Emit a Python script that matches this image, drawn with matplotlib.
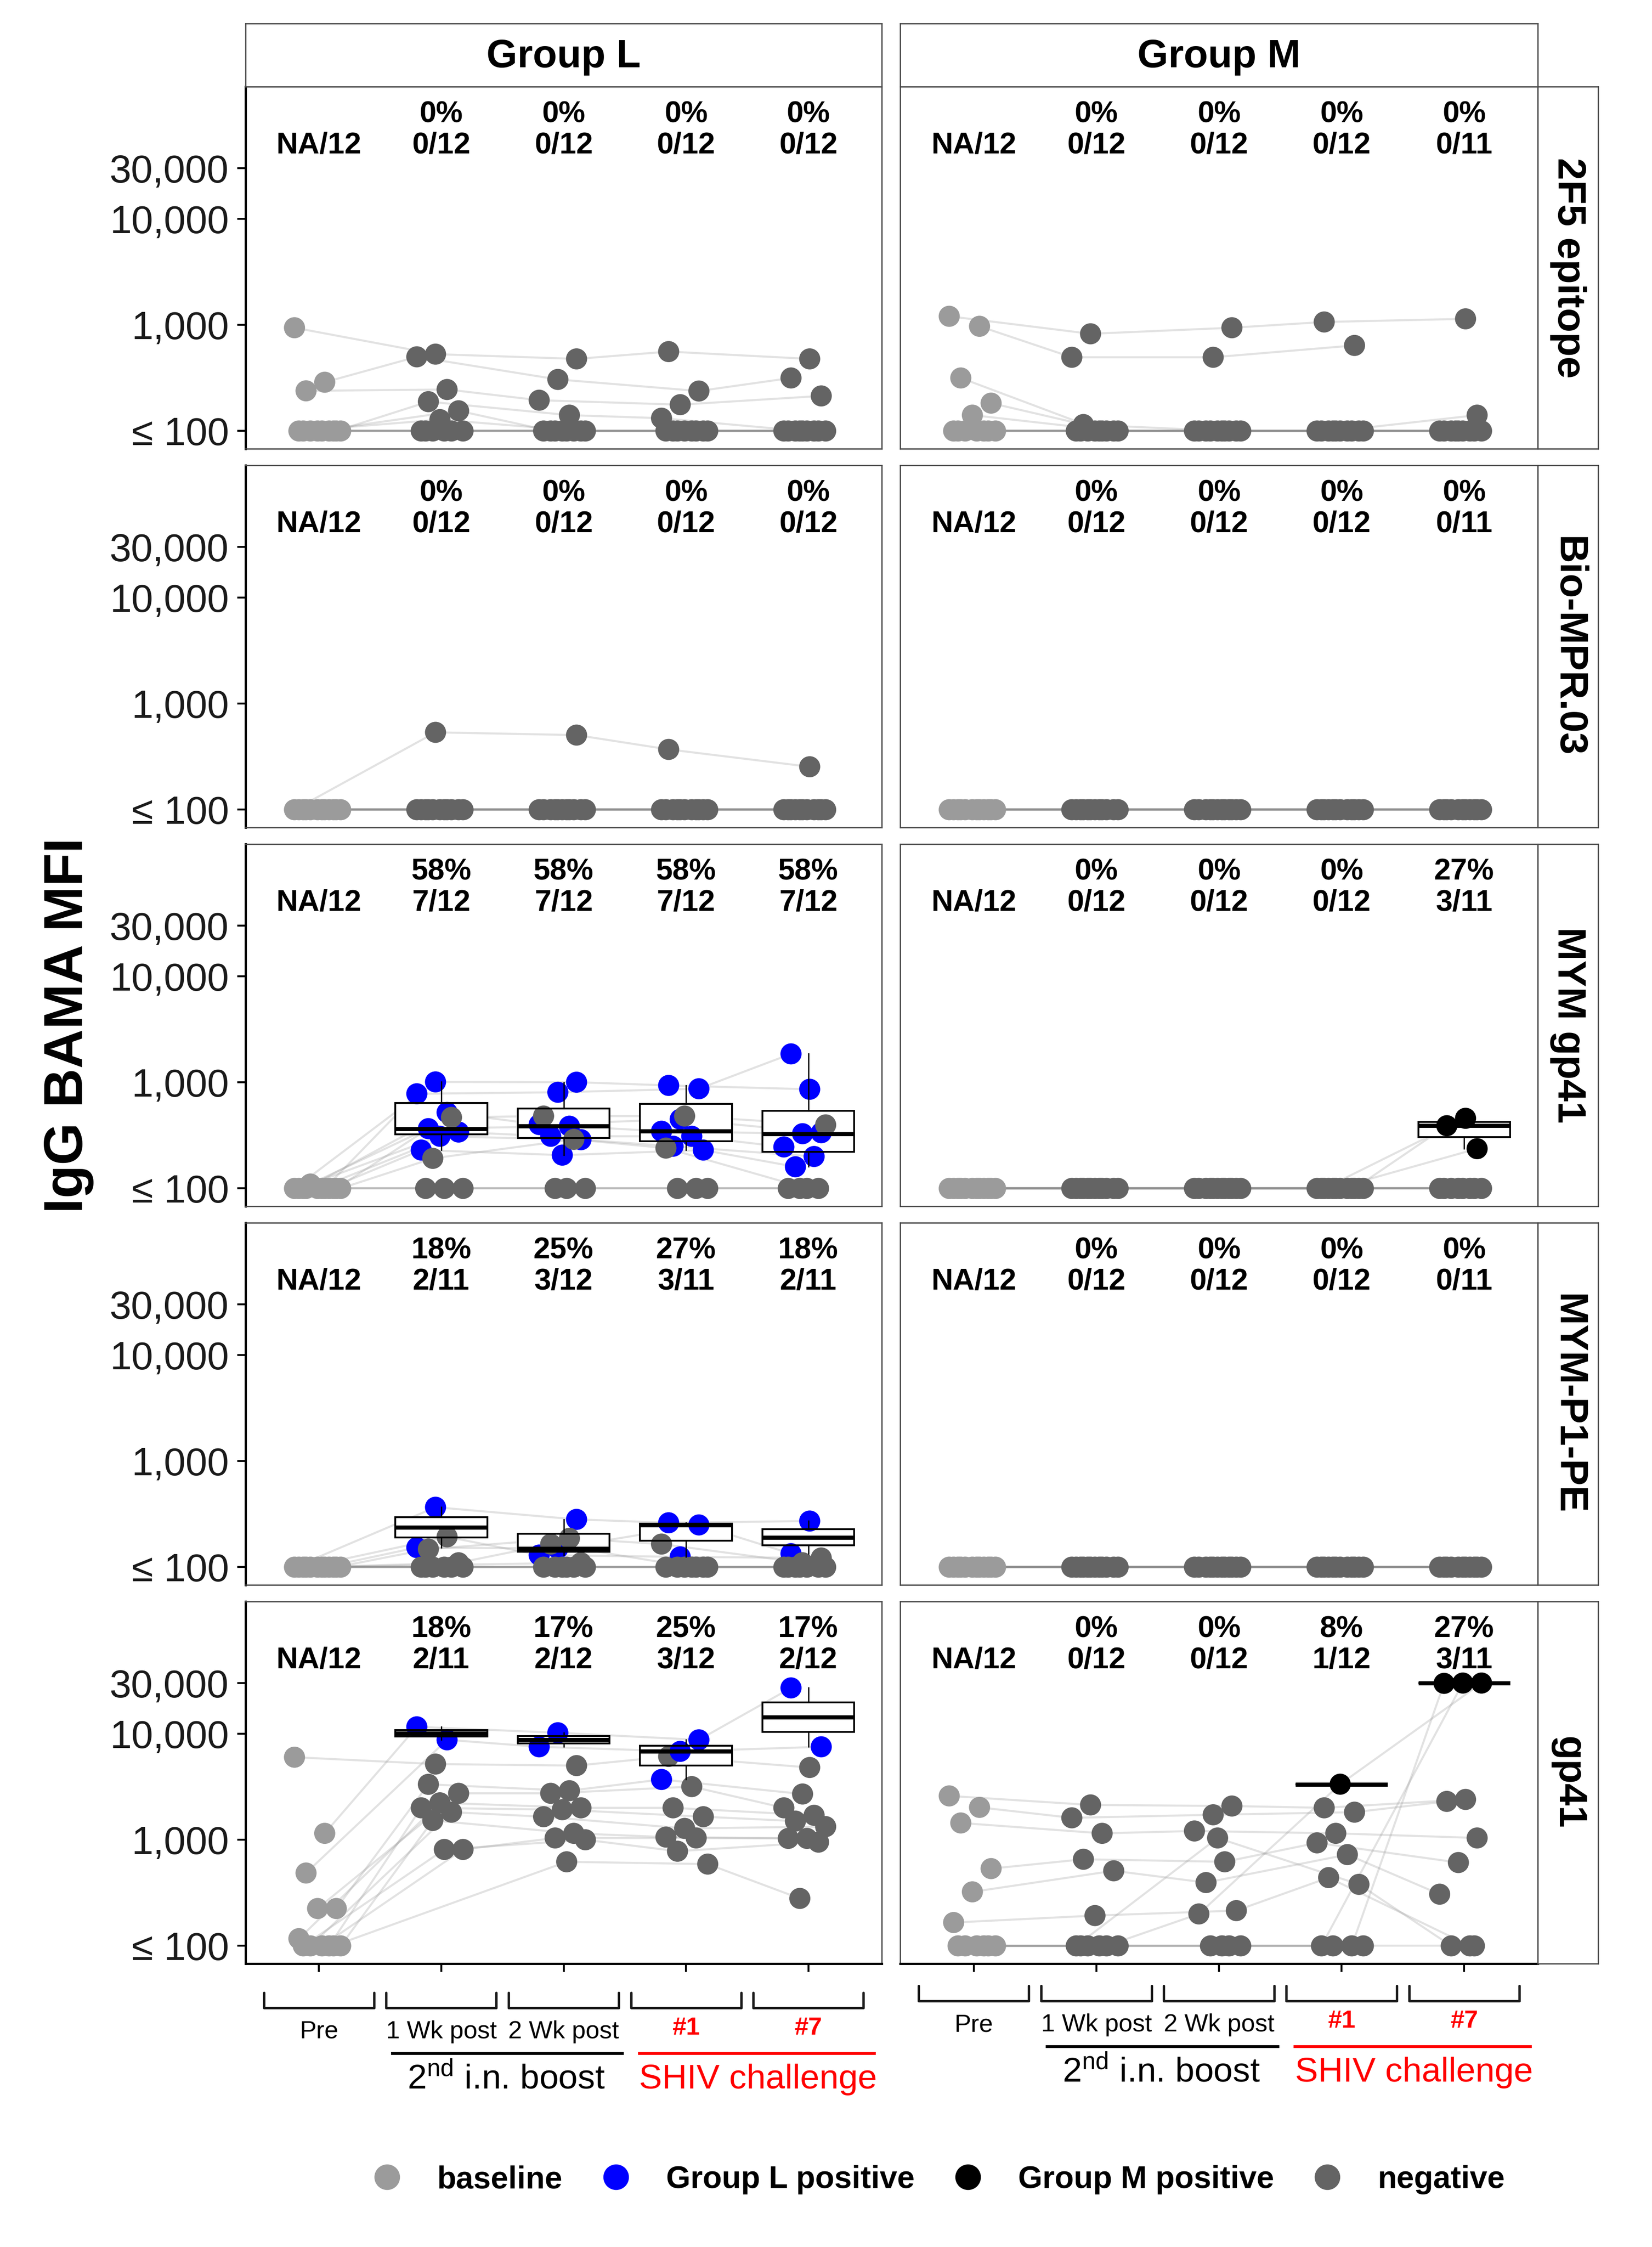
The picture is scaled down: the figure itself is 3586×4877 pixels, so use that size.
import numpy as np
import matplotlib
matplotlib.use("Agg")
import matplotlib.pyplot as plt
from matplotlib import cbook
from matplotlib.lines import Line2D
from matplotlib.ticker import NullLocator, FixedLocator
from matplotlib.transforms import blended_transform_factory

plt.rcParams['font.family'] = ['Liberation Sans', 'DejaVu Sans']
plt.rcParams['mathtext.fontset'] = 'custom'
plt.rcParams['mathtext.rm'] = 'Liberation Sans'
plt.rcParams['mathtext.it'] = 'Liberation Sans:italic'
plt.rcParams['mathtext.bf'] = 'Liberation Sans:bold'

nan = np.nan

# ---------------- data ----------------
timepoints = ["Pre", "1 Wk post", "2 Wk post", "#1", "#7"]
timepoint_colors = ["black", "black", "black", "red", "red"]
groups = ["Group L", "Group M"]
antigens = ["2F5 epitope", "Bio-MPR.03", "MYM gp41", "MYM-P1-PE", "gp41"]
y_ticks = [100, 1000, 10000, 30000]
y_tick_labels = ["\u2264 100", "1,000", "10,000", "30,000"]
phases = ["2$^{\\mathregular{nd}}$ i.n. boost", "SHIV challenge"]
phase_colors = ["black", "red"]
legend_labels = ["baseline", "Group L positive", "Group M positive", "negative"]

# IgG BAMA MFI per animal (rows) and time point (columns: Pre, 1Wk, 2Wk, #1, #7)
mfi_2f5_L = [
    [940, 530, 478, 560, 478],
    [288, 500, 306, 238, 316],
    [239, 246, 195, 177, 214],
    [100, 189, 141, 132, 100],
    [100, 155, 100, 100, 100],
    [100, 128, 100, 100, 100],
    [100, 100, 100, 100, 100],
    [100, 100, 100, 100, 100],
    [100, 100, 100, 100, 100],
    [100, 100, 100, 100, 100],
    [100, 100, 100, 100, 100],
    [100, 100, 100, 100, 100],
]
mfi_2f5_M = [
    [1205, 824, 940, 1065, 1140],
    [970, 495, 495, 640, nan],
    [316, 100, 100, 100, 141],
    [183, 115, 100, 100, 100],
    [141, 100, 100, 100, 100],
    [100, 100, 100, 100, 100],
    [100, 100, 100, 100, 100],
    [100, 100, 100, 100, 100],
    [100, 100, 100, 100, 100],
    [100, 100, 100, 100, 100],
    [100, 100, 100, 100, 100],
    [100, 100, 100, 100, 100],
]
mfi_mpr_L = [
    [100, 536, 505, 370, 254],
    [100, 100, 100, 100, 100],
    [100, 100, 100, 100, 100],
    [100, 100, 100, 100, 100],
    [100, 100, 100, 100, 100],
    [100, 100, 100, 100, 100],
    [100, 100, 100, 100, 100],
    [100, 100, 100, 100, 100],
    [100, 100, 100, 100, 100],
    [100, 100, 100, 100, 100],
    [100, 100, 100, 100, 100],
    [100, 100, 100, 100, 100],
]
mfi_mpr_M = [
    [100, 100, 100, 100, 100],
    [100, 100, 100, 100, 100],
    [100, 100, 100, 100, 100],
    [100, 100, 100, 100, 100],
    [100, 100, 100, 100, 100],
    [100, 100, 100, 100, 100],
    [100, 100, 100, 100, 100],
    [100, 100, 100, 100, 100],
    [100, 100, 100, 100, 100],
    [100, 100, 100, 100, 100],
    [100, 100, 100, 100, 100],
    [100, 100, 100, 100, nan],
]
mfi_mymgp41_L = [
    [100, 1009, 1003, 935, 860],
    [100, 780, 806, 870, 1854],
    [100, 520, 400, 449, 335],
    [100, 366, 386, 346, 328],
    [100, 340, 310, 310, 246],
    [100, 310, 288, 250, 200],
    [100, 230, 206, 230, 160],
    [110, 467, 481, 481, 397],
    [100, 192, 290, 240, 100],
    [100, 100, 100, 100, 100],
    [100, 100, 100, 100, 100],
    [100, 100, 100, 100, 100],
]
pos_mymgp41_L = ["01111", "01111", "01111", "01111", "01111", "01111",
                 "01111", "00000", "00000", "00000", "00000", "00000"]
mfi_mymgp41_M = [
    [100, 100, 100, 100, 458],
    [100, 100, 100, 100, 390],
    [100, 100, 100, 100, 237],
    [100, 100, 100, 100, 100],
    [100, 100, 100, 100, 100],
    [100, 100, 100, 100, 100],
    [100, 100, 100, 100, 100],
    [100, 100, 100, 100, 100],
    [100, 100, 100, 100, 100],
    [100, 100, 100, 100, 100],
    [100, 100, 100, 100, 100],
    [100, 100, 100, 100, nan],
]
pos_mymgp41_M = ["00001", "00001", "00001", "00000", "00000", "00000",
                 "00000", "00000", "00000", "00000", "00000", "00000"]
mfi_p1pe_L = [
    [100, 367, 282, 262, 272],
    [100, 153, 150, 250, 134],
    [100, 193, 130, 125, 122],
    [100, 148, 187, 165, 110],
    [100, 110, 165, 100, 100],
    [100, nan, 110, nan, nan],
    [100, 100, 100, 100, 100],
    [100, 100, 100, 100, 100],
    [100, 100, 100, 100, 100],
    [100, 100, 100, 100, 100],
    [100, 100, 100, 100, 100],
    [100, 100, 100, 100, 100],
]
pos_p1pe_L = ["01111", "01111", "00110", "00000", "00000", "00000",
              "00000", "00000", "00000", "00000", "00000", "00000"]
mfi_p1pe_M = [
    [100, 100, 100, 100, 100],
    [100, 100, 100, 100, 100],
    [100, 100, 100, 100, 100],
    [100, 100, 100, 100, 100],
    [100, 100, 100, 100, 100],
    [100, 100, 100, 100, 100],
    [100, 100, 100, 100, 100],
    [100, 100, 100, 100, 100],
    [100, 100, 100, 100, 100],
    [100, 100, 100, 100, 100],
    [100, 100, 100, 100, 100],
    [100, 100, 100, 100, nan],
]
mfi_gp41_L = [
    [6000, 5170, 5000, 6100, 4800],
    [1150, 11600, 10200, 8750, 27000],
    [486, 8750, 7520, 6810, 7520],
    [225, 3330, 2900, 3700, 2700],
    [225, 2740, 2740, 3170, 2000],
    [117, 2230, 2000, 2000, 1700],
    [100, 2000, 1920, 1650, 1500],
    [100, 1820, 1650, 1280, 1330],
    [100, 1520, 1150, 1060, 1030],
    [100, 810, 1040, 1040, 1030],
    [100, 810, 1000, 780, 950],
    [100, nan, 620, 590, 280],
]
pos_gp41_L = ["00000", "01111", "01111", "00010", "00000", "00000",
              "00000", "00000", "00000", "00000", "00000", "00000"]
mfi_gp41_M = [
    [2590, 2130, 2080, 2000, 2400],
    [2020, 1610, 1720, 1820, 2300],
    [1440, 1150, 1210, 1150, 1040],
    [535, 655, 620, 935, 610],
    [323, 510, 395, 725, 307],
    [166, 193, 215, 440, 100],
    [100, 100, 1040, 380, 100],
    [100, 100, 200, 3340, 30000],
    [100, 100, 100, 100, 30000],
    [100, 100, 100, 100, 29800],
    [100, 100, 100, 100, 100],
    [100, 100, 100, 100, nan],
]
pos_gp41_M = ["00000", "00000", "00000", "00000", "00000", "00000",
              "00000", "00011", "00001", "00001", "00000", "00000"]

panel_values = {
    ("2F5 epitope", "Group L"): mfi_2f5_L, ("2F5 epitope", "Group M"): mfi_2f5_M,
    ("Bio-MPR.03", "Group L"): mfi_mpr_L, ("Bio-MPR.03", "Group M"): mfi_mpr_M,
    ("MYM gp41", "Group L"): mfi_mymgp41_L, ("MYM gp41", "Group M"): mfi_mymgp41_M,
    ("MYM-P1-PE", "Group L"): mfi_p1pe_L, ("MYM-P1-PE", "Group M"): mfi_p1pe_M,
    ("gp41", "Group L"): mfi_gp41_L, ("gp41", "Group M"): mfi_gp41_M,
}
panel_pos = {
    ("MYM gp41", "Group L"): pos_mymgp41_L, ("MYM gp41", "Group M"): pos_mymgp41_M,
    ("MYM-P1-PE", "Group L"): pos_p1pe_L,
    ("gp41", "Group L"): pos_gp41_L, ("gp41", "Group M"): pos_gp41_M,
}

# ---------------- style ----------------
C_BASE = "#9b9b9b"
C_NEG = "#646464"
C_POS = {"Group L": "#0000ff", "Group M": "#000000"}
C_LINE = "#8c8c8c"
C_BORDER = "#4a4a4a"

W, H = 3586, 4877
fig = plt.figure(figsize=(W / 100, H / 100), dpi=100)
fig.patch.set_facecolor("white")


def fx(px):
    return px / W


def fy(py):
    return 1 - py / H


col_x = [(533, 1914), (1954, 3338)]
row_top0, row_pitch, row_h = 188, 822, 786
strip_top = 51
rstrip_x = (3338, 3469)

bottom_axes = []
for r, antigen in enumerate(antigens):
    top = row_top0 + r * row_pitch
    for c, group in enumerate(groups):
        x0, x1 = col_x[c]
        ax = fig.add_axes([fx(x0), fy(top + row_h), (x1 - x0) / W, row_h / H])
        ax.set_yscale("log")
        ax.set_xlim(0.4, 5.6)
        ax.set_ylim(68, 176000)
        vals = np.array(panel_values[(antigen, group)], dtype=float)
        n_an, n_t = vals.shape
        if (antigen, group) in panel_pos:
            pos = np.array([[ch == "1" for ch in s] for s in panel_pos[(antigen, group)]])
        else:
            pos = np.zeros_like(vals, dtype=bool)
        xpos = np.arange(1, n_t + 1)
        jit = ((np.arange(n_an)[:, None] * 0.618034 + np.arange(n_t)[None, :] * 0.381966) % 1 - 0.5) * 0.40
        X = xpos[None, :] + jit

        # connecting lines per animal
        for i in range(n_an):
            ok = np.isfinite(vals[i])
            ax.plot(X[i][ok], vals[i][ok], color=C_LINE, alpha=0.25, lw=3.2,
                    zorder=1, solid_capstyle="round")

        # boxplots of positive responses
        for t in range(1, n_t):
            pv = vals[pos[:, t], t]
            pv = pv[np.isfinite(pv)]
            if len(pv) == 0:
                continue
            st = cbook.boxplot_stats(np.log10(pv), whis=1.5)[0]
            for k in ["mean", "med", "q1", "q3", "whislo", "whishi", "cilo", "cihi"]:
                st[k] = 10 ** st[k]
            st["fliers"] = 10 ** np.asarray(st["fliers"])
            ax.bxp([st], positions=[t + 1], widths=0.75, showfliers=False, showcaps=False,
                   patch_artist=True, manage_ticks=False, zorder=1.5,
                   boxprops=dict(facecolor="white", edgecolor="none", linewidth=0),
                   whiskerprops=dict(linewidth=0), medianprops=dict(linewidth=0))
            ax.bxp([st], positions=[t + 1], widths=0.75, showfliers=False, showcaps=False,
                   patch_artist=True, manage_ticks=False, zorder=4,
                   boxprops=dict(facecolor="none", edgecolor="black", linewidth=2.8),
                   whiskerprops=dict(color="black", linewidth=2.0),
                   medianprops=dict(color="black", linewidth=6.5, solid_capstyle="butt"))

        # points
        for t in range(n_t):
            for i in range(n_an):
                if not np.isfinite(vals[i, t]):
                    continue
                if t == 0:
                    col = C_BASE
                elif pos[i, t]:
                    col = C_POS[group]
                else:
                    col = C_NEG
                ax.scatter([X[i, t]], [vals[i, t]], s=33 ** 2, color=col,
                           edgecolors="none", zorder=3)

        # response rate annotations
        tr_ann = blended_transform_factory(ax.transData, ax.transAxes)
        for t in range(n_t):
            col_vals = vals[:, t]
            n = int(np.isfinite(col_vals).sum())
            if t == 0:
                ax.text(xpos[t], 0.838, f"NA/{n}", transform=tr_ann, ha="center", va="center",
                        fontsize=47, fontweight="bold")
            else:
                k = int((pos[:, t] & np.isfinite(col_vals)).sum())
                ax.text(xpos[t], 0.923, f"{round(100 * k / n)}%", transform=tr_ann,
                        ha="center", va="center", fontsize=47, fontweight="bold")
                ax.text(xpos[t], 0.838, f"{k}/{n}", transform=tr_ann, ha="center",
                        va="center", fontsize=47, fontweight="bold")

        # axes styling
        ax.yaxis.set_major_locator(FixedLocator(y_ticks))
        ax.yaxis.set_minor_locator(NullLocator())
        ax.set_xticks(xpos)
        ax.set_xticklabels([])
        for sp in ax.spines.values():
            sp.set_color(C_BORDER)
            sp.set_linewidth(2.0)
        if c == 0:
            ax.set_yticklabels(y_tick_labels, fontsize=61, color="#1a1a1a")
            ax.tick_params(axis="y", length=13, width=3, color="black", pad=13)
            ax.spines["left"].set_color("black")
            ax.spines["left"].set_linewidth(3.5)
        else:
            ax.set_yticklabels([])
            ax.tick_params(axis="y", length=0)
        if r == len(antigens) - 1:
            ax.tick_params(axis="x", length=13, width=3, color="black")
            ax.spines["bottom"].set_color("black")
            ax.spines["bottom"].set_linewidth(3.5)
            bottom_axes.append(ax)
        else:
            ax.tick_params(axis="x", length=0)

    # right strip
    sax = fig.add_axes([fx(rstrip_x[0]), fy(top + row_h), (rstrip_x[1] - rstrip_x[0]) / W, row_h / H])
    sax.set_xticks([]); sax.set_yticks([])
    for sp in sax.spines.values():
        sp.set_color(C_BORDER); sp.set_linewidth(2.0)
    sax.text(0.5, 0.5, antigen, rotation=270, ha="center", va="center",
             fontsize=62, fontweight="bold", transform=sax.transAxes)

# top strips
for c, group in enumerate(groups):
    x0, x1 = col_x[c]
    tax = fig.add_axes([fx(x0), fy(row_top0), (x1 - x0) / W, (row_top0 - strip_top) / H])
    tax.set_xticks([]); tax.set_yticks([])
    for sp in tax.spines.values():
        sp.set_color(C_BORDER); sp.set_linewidth(2.0)
    tax.text(0.5, 0.47, group, ha="center", va="center", fontsize=62,
             fontweight="bold", transform=tax.transAxes)

# y label
fig.text(fx(149), fy(2226), "IgG BAMA MFI", rotation=90, ha="center", va="center",
         fontsize=85, fontweight="bold")

# bottom time point brackets and phase labels
col_dy = [0, -15]
for c, axb in enumerate(bottom_axes):
    tr = blended_transform_factory(axb.transData, fig.transFigure)
    dy = col_dy[c]
    for t, lab in enumerate(timepoints):
        xx = t + 1
        fig.add_artist(Line2D([xx - 0.45, xx - 0.45, xx + 0.45, xx + 0.45],
                              [fy(4325 + dy), fy(4358 + dy), fy(4358 + dy), fy(4325 + dy)],
                              transform=tr, color="#1a1a1a", lw=3.8,
                              solid_joinstyle="round", solid_capstyle="round"))
        is_red = timepoint_colors[t] == "red"
        base = 4416 if is_red else 4424
        fig.text(xx, fy(base + dy), lab, transform=tr, ha="center", va="baseline",
                 fontsize=39, color=timepoint_colors[t],
                 fontweight="bold" if is_red else "normal")
    spans = [(1.6, 3.48), (3.62, 5.54)]
    centers = [2.53, 4.59]
    for p in range(2):
        fig.add_artist(Line2D(list(spans[p]), [fy(4457 + dy)] * 2, transform=tr,
                              color=phase_colors[p], lw=4.5))
        fig.text(centers[p], fy(4533 + dy), phases[p], transform=tr, ha="center",
                 va="baseline", fontsize=54, color=phase_colors[p])

# legend
leg_colors = [C_BASE, C_POS["Group L"], C_POS["Group M"], C_NEG]
handles = [Line2D([], [], marker="o", linestyle="none", markersize=40,
                  markerfacecolor=col, markeredgecolor="none") for col in leg_colors]
fig.legend(handles, legend_labels, loc="center", bbox_to_anchor=(fx(2036), fy(4731)),
           ncol=4, frameon=False, handlelength=1.0, handletextpad=1.1,
           columnspacing=1.2, prop=dict(size=49, weight="bold"))

fig.savefig("out.png", dpi=100, facecolor="white")
